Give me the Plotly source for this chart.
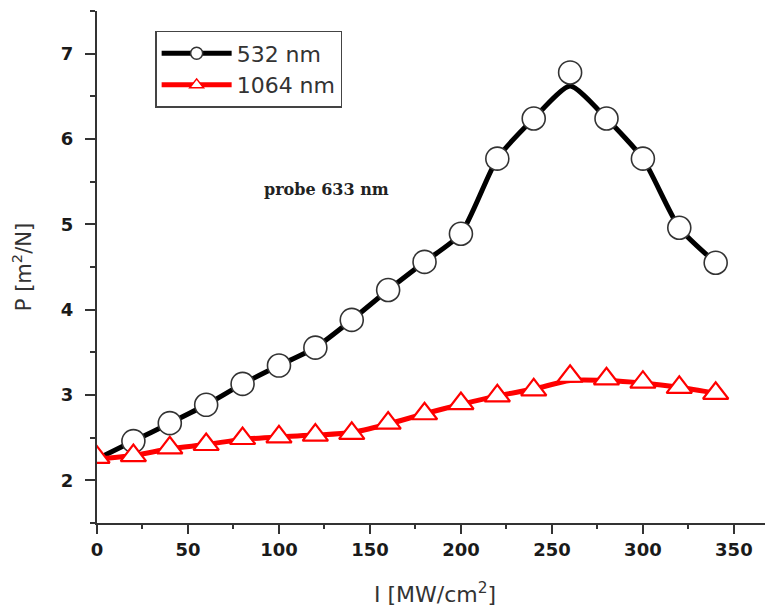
import plotly.graph_objects as go

# ---- data ----
intensity = [20, 40, 60, 80, 100, 120, 140, 160, 180, 200, 220, 240, 260, 280, 300, 320, 340]
p_532 = [2.46, 2.67, 2.885, 3.13, 3.345, 3.555, 3.88, 4.23, 4.56, 4.89, 5.77, 6.24, 6.78, 6.24, 5.77, 4.96, 4.55]

intensity_red = [0, 20, 40, 60, 80, 100, 120, 140, 160, 180, 200, 220, 240, 260, 280, 300, 320, 340]
p_1064 = [2.27, 2.29, 2.38, 2.42, 2.49, 2.51, 2.53, 2.55, 2.67, 2.78, 2.90, 2.99, 3.06, 3.22, 3.19, 3.15, 3.09, 3.02]

# smoothed fitted curves (drawn through the data)
curve_x = [0, 20, 40, 60, 80, 100, 120, 140, 160, 180, 200, 220, 240, 260, 280, 300, 320, 340]
curve_532 = [2.25, 2.46, 2.67, 2.885, 3.13, 3.345, 3.555, 3.88, 4.23, 4.56, 4.89, 5.77, 6.24, 6.62, 6.24, 5.77, 4.96, 4.55]
curve_1064 = [2.25, 2.29, 2.37, 2.42, 2.48, 2.51, 2.53, 2.56, 2.66, 2.78, 2.89, 2.99, 3.07, 3.17, 3.17, 3.14, 3.09, 3.02]

x_ticks = [0, 50, 100, 150, 200, 250, 300, 350]
y_ticks = [2, 3, 4, 5, 6, 7]

fig = go.Figure()

circle_marker = dict(symbol="circle", size=23, color="white",
                     line=dict(color="#333333", width=1.6))
tri_marker = dict(symbol="triangle-up", size=22, color="white",
                  line=dict(color="#ff0000", width=2.2))

# black curve + markers
fig.add_trace(go.Scatter(x=curve_x, y=curve_532, mode="lines",
                         line=dict(color="black", width=5, shape="spline", smoothing=0.6),
                         showlegend=False, hoverinfo="skip"))
fig.add_trace(go.Scatter(x=intensity, y=p_532, mode="markers",
                         marker=circle_marker, showlegend=False))
# red curve + markers
fig.add_trace(go.Scatter(x=curve_x, y=curve_1064, mode="lines",
                         line=dict(color="#ff0000", width=5, shape="spline", smoothing=0.8),
                         showlegend=False, hoverinfo="skip"))
fig.add_trace(go.Scatter(x=intensity_red, y=p_1064, mode="markers",
                         marker=tri_marker, showlegend=False))

# legend entries
fig.add_trace(go.Scatter(x=[None], y=[None], mode="lines+markers", name="532 nm",
                         line=dict(color="black", width=5),
                         marker=dict(symbol="circle", size=12, color="white",
                                     line=dict(color="#333333", width=1.5))))
fig.add_trace(go.Scatter(x=[None], y=[None], mode="lines+markers", name="1064 nm",
                         line=dict(color="#ff0000", width=5),
                         marker=dict(symbol="triangle-up", size=12, color="white",
                                     line=dict(color="#ff0000", width=1.5))))

fig.add_annotation(x=126, y=5.41, xref="x", yref="y", text="<b>probe 633 nm</b>",
                   showarrow=False,
                   font=dict(family="DejaVu Serif", size=16, color="#222222"))

axis_common = dict(showline=True, linecolor="#333333", linewidth=2,
                   ticks="outside", tickcolor="#333333", tickwidth=2,
                   showgrid=False, zeroline=False, mirror=False, automargin=False,
                   tickfont=dict(family="DejaVu Sans", size=18, color="#1a1a1a",
                                 weight="bold"))

fig.update_xaxes(**axis_common, range=[0, 371.5], tickvals=x_ticks, ticklen=9,
                 minor=dict(ticks="outside", ticklen=4, dtick=25, tick0=0,
                            tickcolor="#333333", tickwidth=2),
                 title=dict(text="I [MW/cm<sup>2</sup>]", standoff=28,
                            font=dict(family="DejaVu Sans", size=22, color="#333333")))
fig.update_yaxes(**axis_common, range=[1.5, 7.5], tickvals=y_ticks, ticklen=10,
                 ticklabelstandoff=8,
                 minor=dict(ticks="outside", ticklen=5, dtick=0.5, tick0=1.5,
                            tickcolor="#333333", tickwidth=2),
                 title=dict(text="P [m<sup>2</sup>/N]", standoff=25,
                            font=dict(family="DejaVu Sans", size=21, color="#333333")))

# page body has an 8px margin: the figure is sized/offset to fit the 773x607 window
fig.update_layout(
    width=765, height=599,
    margin=dict(l=89, r=0, t=3, b=84, autoexpand=False),
    paper_bgcolor="white", plot_bgcolor="white",
    legend=dict(x=0.086, y=0.961, xanchor="left", yanchor="top",
                bordercolor="#444444", borderwidth=1.5, bgcolor="white",
                font=dict(family="DejaVu Sans", size=22, color="#333333"),
                tracegroupgap=0, itemwidth=70),
)

fig.write_html("out.html")
